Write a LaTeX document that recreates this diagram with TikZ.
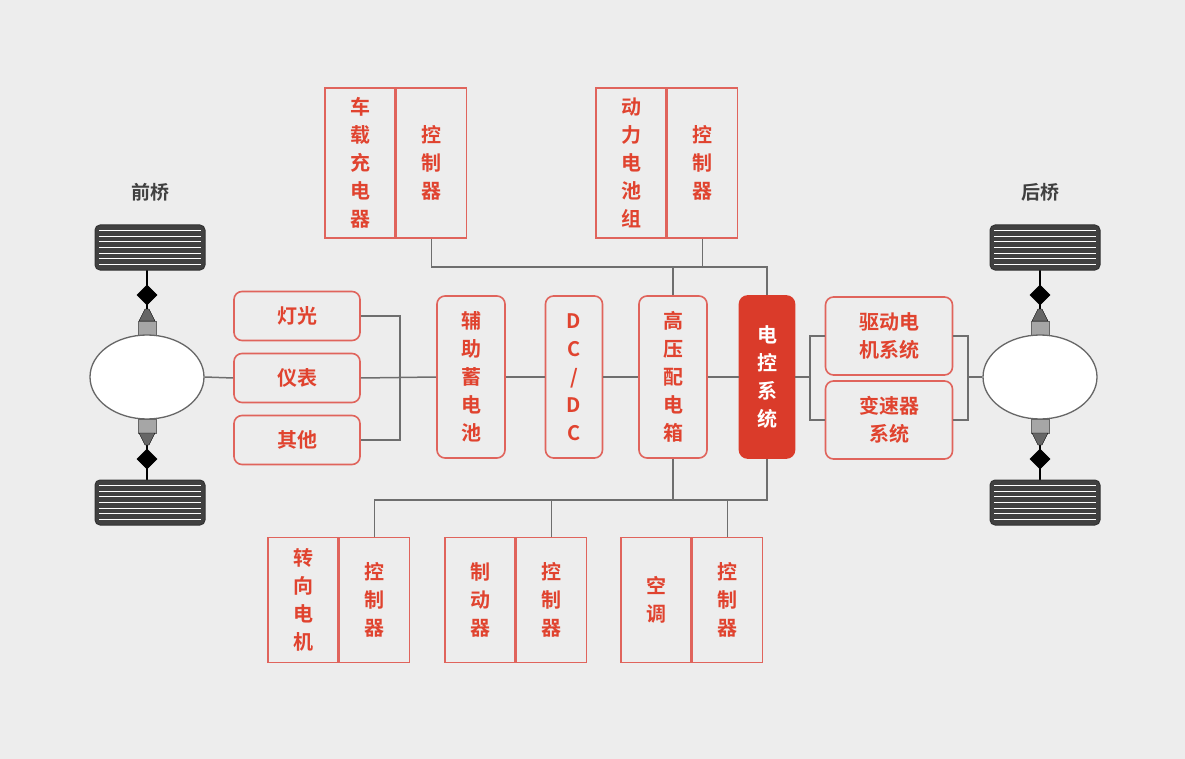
\documentclass[tikz,border=0pt]{standalone}
\usepackage{fontspec}
\setmainfont{Noto Sans CJK SC}[BoldFont={* Bold}]
\usetikzlibrary{positioning,shapes.geometric}
\definecolor{bg}{HTML}{EDEDED}
\definecolor{boxred}{HTML}{E0645C}
\definecolor{txtred}{HTML}{E0432F}
\definecolor{ctlred}{HTML}{DA3B2A}
\definecolor{wire}{HTML}{6E6E6E}
\tikzset{
  unit/.style={draw=boxred, line width=1.6pt, rounded corners=8pt, text=txtred,
    font=\fontsize{20}{28}\selectfont\bfseries, align=center, inner sep=0pt},
  half/.style={draw=boxred, line width=1.6pt, text=txtred, minimum width=70pt,
    font=\fontsize{20}{28}\selectfont\bfseries, align=center, inner sep=0pt},
  wire/.style={draw=wire, line width=1.5pt},
  tire/.style={fill=black!75, draw=black!80, rounded corners=5pt, line width=1pt},
  axle/.style={draw=black!60, fill=white, line width=1.3pt}
}
\newcommand{\tyre}[2]{% x left, y top
  \draw[tire] (#1,#2) rectangle ++(110,45);
  \foreach \k in {1,...,7}
    \draw[white, line width=0.8pt] (#1+4,#2+\k*5.6) -- (#1+106,#2+\k*5.6);
}
\newcommand{\joint}[3]{% x, y at ellipse, direction (1 up, -1 down)
  \draw[black, line width=2.5pt] (#1,#2-#3*14) -- (#1,#2-#3*67);
  \draw[fill=black!35, draw=black!60] (#1-9,#2) rectangle (#1+9,#2-#3*14);
  \draw[fill=black!60, draw=black] (#1-8,#2-#3*14) -- (#1+8,#2-#3*14) -- (#1+2,#2-#3*26) -- (#1-2,#2-#3*26) -- cycle;
  \draw[fill=black] (#1,#2-#3*30) -- (#1+10,#2-#3*40) -- (#1,#2-#3*50) -- (#1-10,#2-#3*40) -- cycle;
}
\begin{document}
\begin{tikzpicture}[x=1pt,y=-1pt]
\fill[bg] (0,0) rectangle (1185,759);
\useasboundingbox (0,0) rectangle (1185,759);

% axles and wheels
\joint{147}{335}{1} \joint{147}{419}{-1}
\joint{1040}{335}{1} \joint{1040}{419}{-1}
\tyre{95}{225} \tyre{95}{480}
\tyre{990}{225} \tyre{990}{480}
\node[axle, ellipse, minimum width=114pt, minimum height=84pt] (front) at (147,377) {};
\node[axle, ellipse, minimum width=114pt, minimum height=84pt] (rear) at (1040,377) {};
\node[font=\fontsize{19}{22}\selectfont\bfseries, text=black!75] (frontlbl) at (150,192) {前桥};
\node[font=\fontsize{19}{22}\selectfont\bfseries, text=black!75] (rearlbl) at (1040,192) {后桥};

% top units
\node[half, minimum height=150pt] (chgL) at (360,163) {车\\载\\充\\电\\器};
\node[half, minimum height=150pt, right=0pt of chgL] (chgR) {控\\制\\器};
\node[half, minimum height=150pt] (batL) at (631,163) {动\\力\\电\\池\\组};
\node[half, minimum height=150pt, right=0pt of batL] (batR) {控\\制\\器};

% left loads
\node[unit, minimum width=126pt, minimum height=49pt] (light) at (297,316) {灯光};
\node[unit, minimum width=126pt, minimum height=49pt] (meter) at (297,378) {仪表};
\node[unit, minimum width=126pt, minimum height=49pt] (other) at (297,440) {其他};

% middle chain
\node[unit, minimum width=68pt, minimum height=162pt] (aux) at (471,377) {辅\\助\\蓄\\电\\池};
\node[unit, minimum width=57pt, minimum height=162pt] (dcdc) at (574,377) {D\\C\\/\\D\\C};
\node[unit, minimum width=68pt, minimum height=162pt] (hv) at (673,377) {高\\压\\配\\电\\箱};
\node[unit, fill=ctlred, draw=ctlred, text=white, minimum width=55pt, minimum height=162pt] (ctl) at (767,377) {电\\控\\系\\统};

% drive side
\node[unit, minimum width=127pt, minimum height=78pt] (drive) at (889,336) {驱动电\\机系统};
\node[unit, minimum width=127pt, minimum height=78pt] (gear) at (889,420) {变速器\\系统};

% bottom units
\node[half, minimum height=125pt] (steerL) at (303,600) {转\\向\\电\\机};
\node[half, minimum height=125pt, right=0pt of steerL] (steerR) {控\\制\\器};
\node[half, minimum height=125pt] (brakeL) at (480,600) {制\\动\\器};
\node[half, minimum height=125pt, right=0pt of brakeL] (brakeR) {控\\制\\器};
\node[half, minimum height=125pt] (acL) at (656,600) {空\\调};
\node[half, minimum height=125pt, right=0pt of acL] (acR) {控\\制\\器};

% wiring
\coordinate (bus1) at (767,267);
\coordinate (bus2) at (767,500);
\coordinate (lx) at (400,378);
\coordinate (rb) at (810,377);
\coordinate (rx) at (968,377);
\draw[wire] (chgR.south) |- (bus1) -- (ctl.north);
\draw[wire] (batR.south) -- (batR.south |- bus1);
\draw[wire] (hv.north) -- (hv.north |- bus1);
\draw[wire] (ctl.south) -- (bus2) -| (steerR.north);
\draw[wire] (hv.south) -- (hv.south |- bus2);
\draw[wire] (brakeR.north) -- (brakeR.north |- bus2);
\draw[wire] (acR.north) -- (acR.north |- bus2);
\draw[wire] (light.east) -| (lx) |- (other.east);
\draw[wire] (front.east) -- (meter.west);
\draw[wire] (meter.east) -- (aux.west);
\draw[wire] (aux) -- (dcdc) -- (hv) -- (ctl);
\draw[wire] (ctl.east) -- (rb);
\draw[wire] (drive.west) -| (rb) |- (gear.west);
\draw[wire] (drive.east) -| (rx) |- (gear.east);
\draw[wire] (rx) -- (rear.west);
\end{tikzpicture}
\end{document}
